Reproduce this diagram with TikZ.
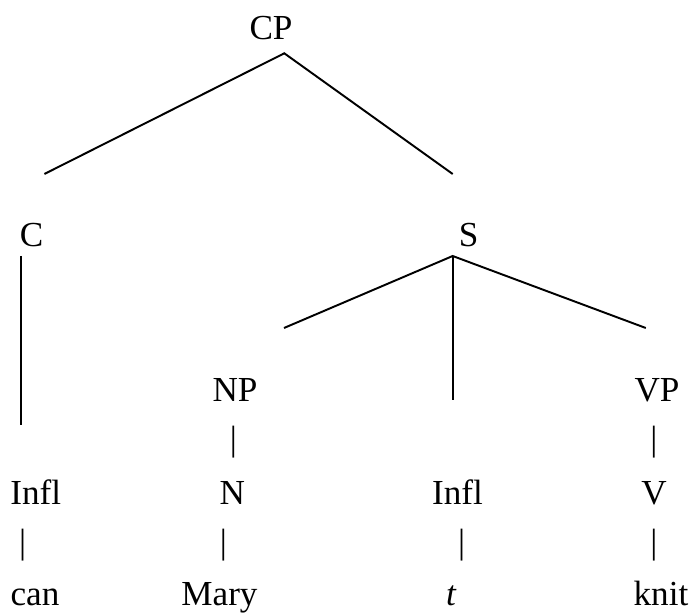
\documentclass[tikz,border=0pt]{standalone}
\usepackage{fontspec}
\setmainfont{Liberation Serif}
\usepackage{tikz}

\begin{document}
\begin{tikzpicture}[scale=0.2,
    word/.style={anchor=base},
    bar/.style={anchor=center}]
                \tikzstyle{every node}+=[inner sep=0pt, font=\fontsize{20}{24}\selectfont]
                \useasboundingbox (0,0) rectangle (69.6,-61.4);
                % categories
                \node [word] (cp) at (27.1,-3.93) {CP};
                \node [word] (c) at (3.17,-24.65) {C};
                \node [word] (s) at (46.87,-24.65) {S};
                \node [word] (np) at (23.5,-40.17) {NP};
                \node [word] (vp) at (65.7,-40.17) {VP};
                \node [word] (infla) at (3.58,-50.4) {Infl};
                \node [word] (n) at (23.23,-50.4) {N};
                \node [word] (inflb) at (45.75,-50.4) {Infl};
                \node [word] (v) at (65.4,-50.4) {V};
                % words
                \node [word] (can) at (3.5,-60.55) {can};
                \node [word] (mary) at (21.95,-60.55) {Mary};
                \node [word] (trace) at (45.1,-60.55) {\itshape t};
                \node [word] (knit) at (66.1,-60.55) {knit};
                % unary bars
                \node [bar] (np-n) at (23.33,-44.25) {|};
                \node [bar] (vp-v) at (65.4,-44.25) {|};
                \node [bar] (infla-can) at (2.27,-54.53) {|};
                \node [bar] (n-mary) at (22.33,-54.53) {|};
                \node [bar] (inflb-trace) at (46.17,-54.53) {|};
                \node [bar] (v-knit) at (65.4,-54.53) {|};
                % branch ends
                \coordinate (cp-foot) at (28.43,-5.33);
                \coordinate (c-head) at (4.44,-17.4);
                \coordinate (s-head) at (45.27,-17.4);
                \coordinate (c-foot) at (2.09,-25.6);
                \coordinate (infla-head) at (2.09,-42.5);
                \coordinate (s-foot) at (45.27,-25.6);
                \coordinate (np-head) at (28.4,-32.8);
                \coordinate (inflb-head) at (45.27,-40.0);
                \coordinate (vp-head) at (64.58,-32.8);
                \draw [black, line width=1.1pt] (c-head) -- (cp-foot) -- (s-head);
                \draw [black, line width=1.1pt] (c-foot) -- (infla-head);
                \draw [black, line width=1.1pt] (np-head) -- (s-foot) -- (vp-head);
                \draw [black, line width=1.1pt] (s-foot) -- (inflb-head);
\end{tikzpicture}
\end{document}
